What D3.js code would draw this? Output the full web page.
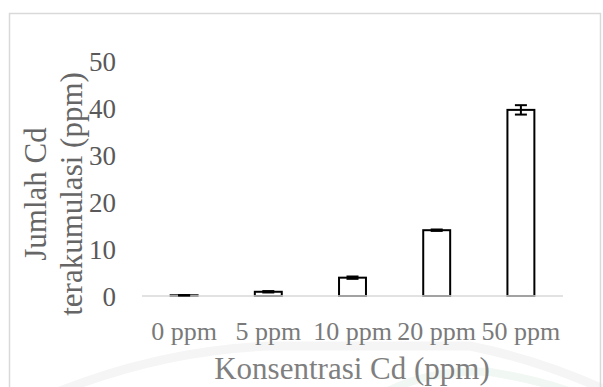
<!DOCTYPE html>
<html>
<head>
    <meta charset="utf-8">
    <title>Jumlah Cd terakumulasi</title>
    <style type="text/css">
        body {
            margin: 0;
            padding: 0;
            background: #fff;
        }
        svg text {
            font-family: 'Liberation Serif', 'Times New Roman', serif;
        }
        .y-ticks text {
            fill: #595959;
        }
        .x-ticks text {
            fill: #7a7a7a;
        }
        .axis-title {
            fill: #7f7f7f;
        }
    </style>
</head>
<body>
<script src="https://d3js.org/d3.v7.min.js"></script>
<script>

    var width = 603,
        height = 387;

    // data
    var categories = ["0 ppm", "5 ppm", "10 ppm", "20 ppm", "50 ppm"];
    var values = [0.15, 0.9, 3.9, 14.0, 39.6];
    var errors = [0.05, 0.15, 0.25, 0.15, 1.0];
    var yTicks = [0, 10, 20, 30, 40, 50];

    var plot = {left: 142, right: 563, top: 61, bottom: 296};

    var x = d3.scaleBand()
        .domain(categories)
        .range([plot.left, plot.right])
        .paddingInner(0.68)
        .paddingOuter(0.34);

    var y = d3.scaleLinear()
        .domain([0, 50])
        .range([plot.bottom, plot.top]);

    var svg = d3.select("body").append("svg")
        .attr("width", width)
        .attr("height", height);

    // faint watermark behind the chart
    var wm = svg.append("g").attr("fill", "none");
    wm.append("path")
        .attr("d", "M50,395 Q160,350 270,346 L470,346 Q540,360 610,392")
        .attr("stroke", "#f5f5f5")
        .attr("stroke-width", 9);
    wm.append("path")
        .attr("d", "M380,395 Q430,368 490,372 Q540,380 580,395")
        .attr("stroke", "#f1f7f2")
        .attr("stroke-width", 8);

    // chart border
    svg.append("rect")
        .attr("x", 9.5)
        .attr("y", 13.5)
        .attr("width", 591)
        .attr("height", 420)
        .attr("fill", "none")
        .attr("stroke", "#d9d9d9")
        .attr("stroke-width", 1.5);

    // y axis (labels only)
    var yAxis = svg.append("g")
        .attr("class", "y-ticks")
        .attr("transform", "translate(" + 116 + ",0)")
        .call(d3.axisLeft(y).tickValues(yTicks).tickSize(0).tickPadding(0));
    yAxis.select(".domain").remove();
    yAxis.selectAll("text")
        .attr("font-size", "27px")
        .attr("dy", "0.36em");

    // bars
    svg.append("g").selectAll("rect")
        .data(values)
        .enter().append("rect")
        .attr("x", function(d, i) { return x(categories[i]); })
        .attr("y", function(d) { return y(d); })
        .attr("width", x.bandwidth())
        .attr("height", function(d) { return y(0) - y(d); })
        .attr("fill", "#fff")
        .attr("stroke", "#000")
        .attr("stroke-width", 2);

    // baseline
    svg.append("line")
        .attr("x1", plot.left)
        .attr("x2", plot.right)
        .attr("y1", y(0))
        .attr("y2", y(0))
        .attr("stroke", "#d9d9d9")
        .attr("stroke-width", 1.5);

    // error bars
    var eb = svg.append("g").selectAll("g")
        .data(values)
        .enter().append("g")
        .attr("stroke", "#000")
        .attr("stroke-width", 2);

    eb.append("line")
        .attr("x1", function(d, i) { return x(categories[i]) + x.bandwidth() / 2; })
        .attr("x2", function(d, i) { return x(categories[i]) + x.bandwidth() / 2; })
        .attr("y1", function(d, i) { return y(d + errors[i]); })
        .attr("y2", function(d, i) { return y(d - errors[i]); });

    [1, -1].forEach(function(s) {
        eb.append("line")
            .attr("x1", function(d, i) { return x(categories[i]) + x.bandwidth() / 2 - 6; })
            .attr("x2", function(d, i) { return x(categories[i]) + x.bandwidth() / 2 + 6; })
            .attr("y1", function(d, i) { return y(d + s * errors[i]); })
            .attr("y2", function(d, i) { return y(d + s * errors[i]); });
    });

    // x axis (labels only)
    var xAxis = svg.append("g")
        .attr("class", "x-ticks")
        .attr("transform", "translate(0," + 322 + ")")
        .call(d3.axisBottom(x).tickSize(0).tickPadding(0));
    xAxis.select(".domain").remove();
    xAxis.selectAll("text")
        .attr("font-size", "26px")
        .attr("dy", "0.71em");

    // axis titles
    svg.append("text")
        .attr("class", "axis-title")
        .attr("x", 352)
        .attr("y", 379)
        .attr("text-anchor", "middle")
        .attr("font-size", "31px")
        .text("Konsentrasi Cd (ppm)");

    var yTitle = svg.append("text")
        .attr("class", "axis-title")
        .attr("transform", "translate(0,194) rotate(-90)")
        .attr("text-anchor", "middle")
        .attr("font-size", "31px")
        .style("fill", "#666");
    yTitle.append("tspan").attr("x", 0).attr("y", 46).text("Jumlah Cd");
    yTitle.append("tspan").attr("x", 0).attr("y", 82).text("terakumulasi (ppm)");

</script>
</body>
</html>
